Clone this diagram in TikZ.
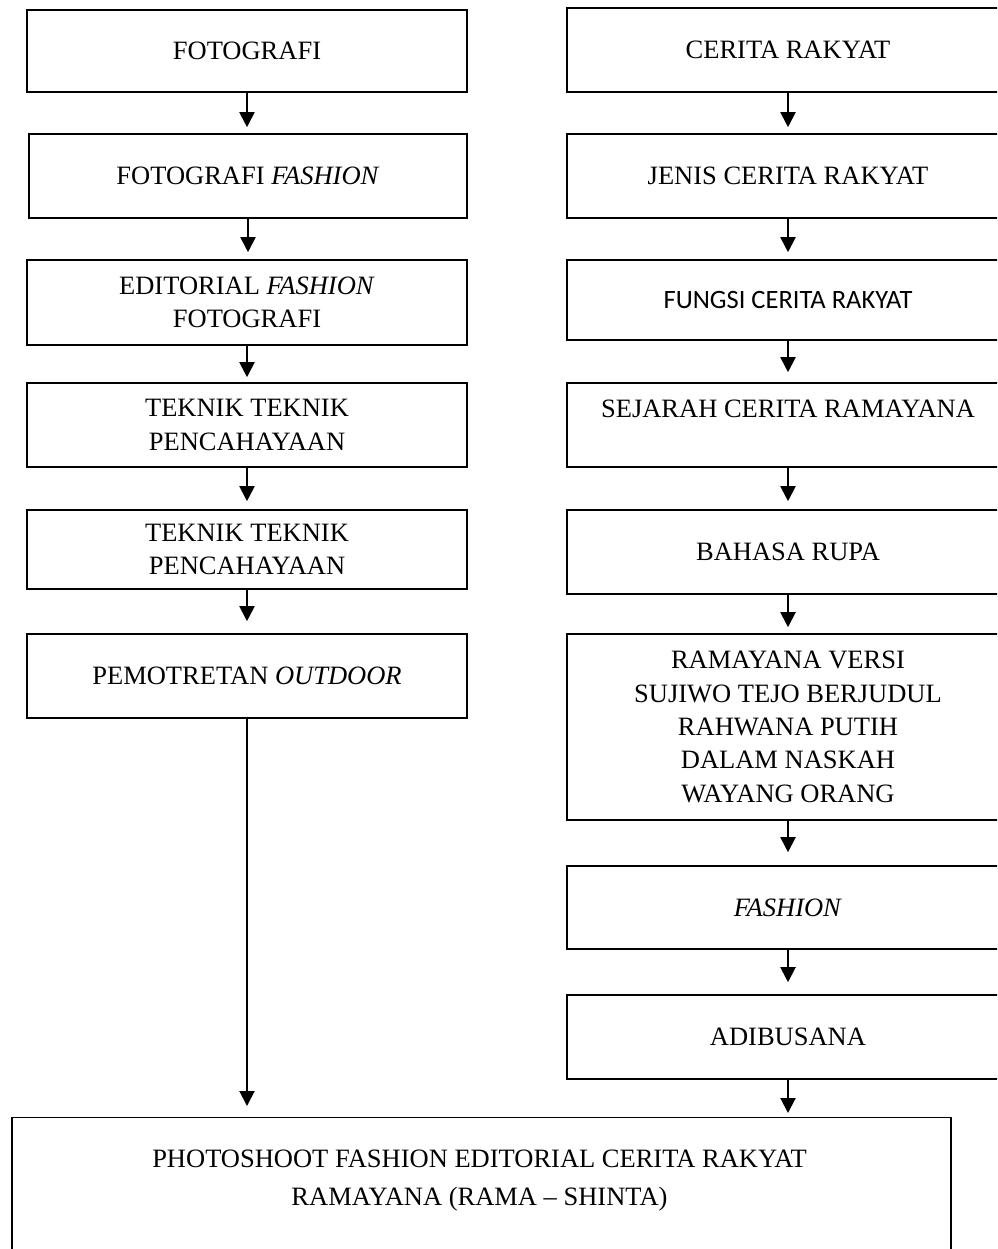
\documentclass[tikz,border=0pt]{standalone}
\usepackage{fontspec}
\setmainfont{Liberation Serif}
\newfontfamily\calfont{Carlito}
\usetikzlibrary{arrows.meta}
\tikzset{
  box/.style={draw, line width=1.6pt, rectangle, inner sep=0pt, align=center,
    font=\fontsize{26.5}{33.3}\selectfont},
  lbox/.style={box, minimum width=440pt},
  rbox/.style={box, minimum width=442pt},
  arr/.style={line width=2pt, -{Triangle[width=15pt,length=15pt]}},
  bigtext/.style={align=center, inner sep=0pt, font=\fontsize{26.5}{38}\selectfont}
}
\begin{document}
\begin{tikzpicture}[x=1pt,y=-1pt]
\useasboundingbox (0,0) rectangle (997,1249);
\clip (0,0) rectangle (997,1249);
% left column
\node[lbox, minimum height=82pt] (l1) at (247,51) {FOTOGRAFI};
\node[box, minimum width=438pt, minimum height=84pt] (l2) at (248,176) {FOTOGRAFI \textit{FASHION}};
\node[lbox, minimum height=85pt] (l3) at (247,302.5) {EDITORIAL \textit{FASHION}\\FOTOGRAFI};
\node[lbox, minimum height=84pt] (l4) at (247,425) {TEKNIK TEKNIK\\PENCAHAYAAN};
\node[lbox, minimum height=79pt] (l5) at (247,549.5) {TEKNIK TEKNIK\\PENCAHAYAAN};
\node[lbox, minimum height=84pt] (l6) at (247,676) {PEMOTRETAN \textit{OUTDOOR}};
% right column
\node[rbox, minimum height=84pt] (r1) at (788,50) {CERITA RAKYAT};
\node[rbox, minimum height=84pt] (r2) at (788,176) {JENIS CERITA RAKYAT};
\node[rbox, minimum height=80pt] (r3) at (788,300) {\raisebox{-4pt}{\calfont FUNGSI CERITA RAKYAT}};
\node[rbox, minimum height=84pt] (r4) at (788,425) {SEJARAH CERITA RAMAYANA\\\mbox{}};
\node[rbox, minimum height=84pt] (r5) at (788,552) {BAHASA RUPA};
\node[rbox, minimum height=186pt] (r6) at (788,727) {RAMAYANA VERSI\\SUJIWO TEJO BERJUDUL\\RAHWANA PUTIH\\DALAM NASKAH\\WAYANG ORANG};
\node[rbox, minimum height=83pt] (r7) at (788,907.5) {\textit{FASHION}};
\node[rbox, minimum height=84pt] (r8) at (788,1037) {ADIBUSANA};
% bottom box
\node[draw, line width=1.4pt, rectangle, inner sep=0pt, anchor=north,
      minimum width=939pt, minimum height=200pt] (bot) at (481.5,1117) {};
\node[bigtext] (bottxt) at (479.5,1181) {PHOTOSHOOT FASHION EDITORIAL CERITA RAKYAT\\RAMAYANA (RAMA -- SHINTA)};
% arrows left
\draw[arr, shorten >=6pt] (l1.south) -- (l1.south |- l2.north);
\draw[arr, shorten >=7pt] (l2.south) -- (l2.south |- l3.north);
\draw[arr, shorten >=5pt] (l3.south) -- (l3.south |- l4.north);
\draw[arr, shorten >=8pt] (l4.south) -- (l4.south |- l5.north);
\draw[arr, shorten >=12pt] (l5.south) -- (l5.south |- l6.north);
\draw[arr, shorten >=11pt] (l6.south) -- (l6.south |- bot.north);
% arrows right
\draw[arr, shorten >=6pt] (r1.south) -- (r1.south |- r2.north);
\draw[arr, shorten >=7pt] (r2.south) -- (r2.south |- r3.north);
\draw[arr, shorten >=10pt] (r3.south) -- (r3.south |- r4.north);
\draw[arr, shorten >=8pt] (r4.south) -- (r4.south |- r5.north);
\draw[arr, shorten >=6pt] (r5.south) -- (r5.south |- r6.north);
\draw[arr, shorten >=13pt] (r6.south) -- (r6.south |- r7.north);
\draw[arr, shorten >=12pt] (r7.south) -- (r7.south |- r8.north);
\draw[arr, shorten >=4pt] (r8.south) -- (r8.south |- bot.north);
\end{tikzpicture}
\end{document}
